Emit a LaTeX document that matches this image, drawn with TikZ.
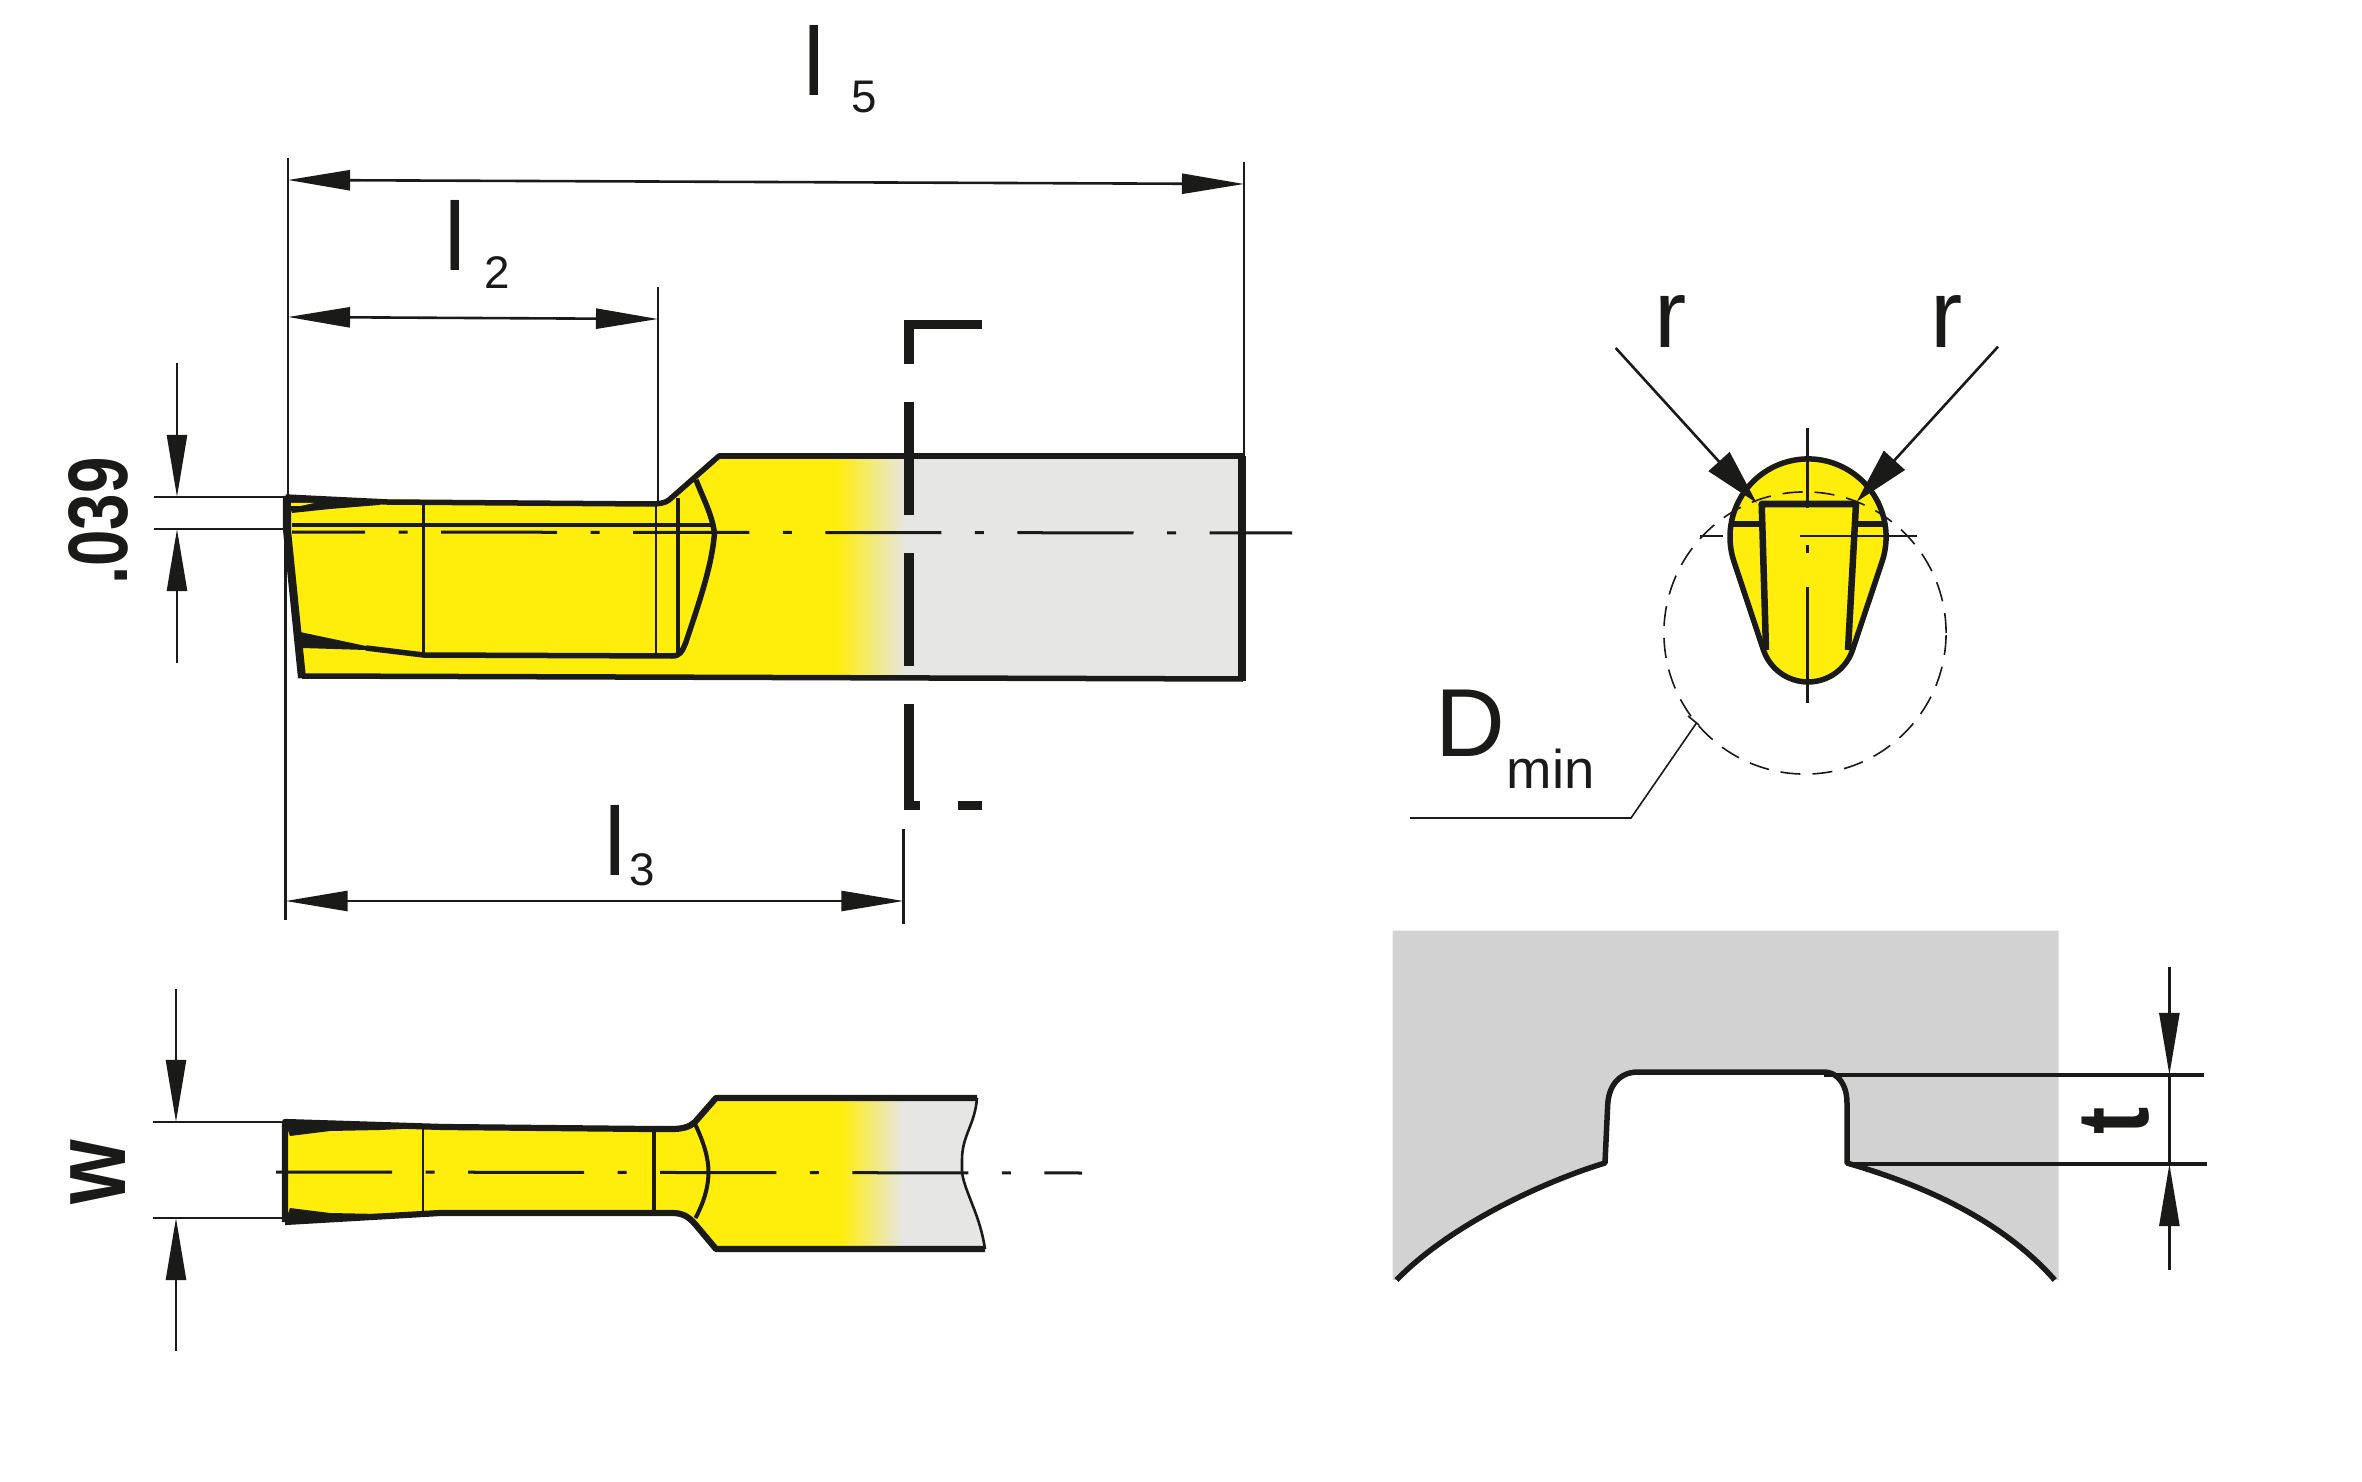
\documentclass[tikz,border=0pt]{standalone}
\usepackage{fontspec}
\setmainfont{Liberation Sans}
\usetikzlibrary{arrows.meta}
\definecolor{tipyellow}{HTML}{FFEE0C}
\definecolor{shankgray}{HTML}{E6E6E4}
\definecolor{workgray}{HTML}{D2D2D2}
\definecolor{inkblack}{HTML}{1A1A18}

\begin{document}
\begin{tikzpicture}[
			x=0.01cm, y=-0.01cm, color = inkblack,
			>={Triangle[length=0.62cm, width=0.2cm]},
			bodyline/.style={line width = 0.055cm, line join=round},
			heavyline/.style={line width = 0.08cm},
			midline/.style={line width = 0.04cm},
			thinline/.style={line width = 0.026cm},
			dimline/.style={line width = 0.026cm},
			cutline/.style={line width = 0.095cm},
			axisline/.style={line width = 0.03cm, dash pattern=on 1.16cm off 0.335cm on 0.09cm off 0.335cm},
			biglabel/.style={inner sep=0, anchor=base west, font=\fontsize{27.5}{28}\selectfont},
			sublabel/.style={inner sep=0, anchor=base west, font=\fontsize{13}{14}\selectfont},
			sidelabel/.style={inner sep=0, anchor=base, rotate=90, xscale=0.8, font=\bfseries\fontsize{28}{28}\selectfont}
		]
		\useasboundingbox (0,0) rectangle (2362,1482);

		\fill[tipyellow] (285.5,497) -- (648,504) -- (669,500) -- (719,456) -- (838,456) -- (838,678) -- (302,676) -- (285.5,530) -- cycle;
		\shade[left color=tipyellow, right color=shankgray] (837,456) rectangle (906,679);
		\fill[shankgray] (905,456) rectangle (1243,679);

		\draw[thinline] (288,158) -- (288,497);
		\draw[thinline] (285.5,497) -- (285.5,920);
		\draw[thinline] (1244,162) -- (1244,456);
		\draw[thinline] (658,287) -- (658,503);
		\draw[thinline] (903.5,829) -- (903.5,924);
		\draw[thinline] (154,497) -- (286,497);
		\draw[thinline] (154,529) -- (286,529);

		\draw[dimline,<->] (288,180) -- (1244,184);
		\draw[dimline,<->] (288,317) -- (658,319);
		\draw[dimline,<->] (285.5,901) -- (903.5,901);
		\draw[dimline,->] (177,363) -- (177,497);
		\draw[dimline,->] (177,663) -- (177,529);

		\draw[bodyline] (285.5,497) -- (387,502) -- (648,504) .. controls (660,504) and (665,503) .. (669,500) -- (719,456) -- (1243,456);
		\draw[bodyline] (1243,679) -- (302,676);
		\draw[heavyline] (1242,456) -- (1242,681);
		\draw[heavyline] (287,496) -- (287,530) -- (302,678);
		\draw[midline] (292,525) -- (714,525);
		\draw[thinline] (423.5,505) -- (423.5,655);
		\draw[thinline] (656,504) -- (656,655);
		\draw[midline] (678,498) -- (678,654);
		\draw[bodyline] (366,648) -- (423.5,655) -- (672,656) .. controls (680,656) and (682,652) .. (686,642) .. controls (700,600) and (712,565) .. (714.5,533) .. controls (712,515) and (704,500) .. (696,480);
		\fill (287,497) -- (387,502) -- (379,505) -- (330,509) -- (292,513) -- cycle;
		\fill[tipyellow] (291,503) -- (314,503) -- (300,506) -- (291,506) -- cycle;
		\fill (300,632) -- (366,646) -- (366,650) -- (302,648) -- cycle;
		\draw[axisline,dash phase=0.43cm] (292,532) -- (1292,533);

		\draw[cutline] (909,364.5) -- (909,324.5) -- (982,324.5);
		\draw[cutline] (909,402) -- (909,515.5);
		\draw[cutline] (909,553) -- (909,666);
		\draw[cutline] (909,704) -- (909,805.5) -- (920,805.5);
		\draw[cutline] (957.5,805.5) -- (982,805.5);

		\node[biglabel] (lfive) at (803,96) {l};
		\node[sublabel] (lfivesub) at (851,113) {5};
		\node[biglabel] (ltwo) at (444,271) {l};
		\node[sublabel] (ltwosub) at (484,289) {2};
		\node[biglabel] (lthree) at (604,875) {l};
		\node[sublabel] (lthreesub) at (629,885) {3};
		\node[sidelabel,xscale=0.97,font=\bfseries\fontsize{24}{24}\selectfont] (lip) at (127,521) {.039};

		\fill[tipyellow] (285,1122) -- (443,1127) -- (672,1129) -- (695,1122) -- (716,1098) -- (842,1098) -- (842,1249) -- (716,1249) -- (690,1220) -- (672,1213) -- (440,1213) -- (285,1222) -- cycle;
		\shade[left color=tipyellow, right color=shankgray] (841,1098) rectangle (903,1249);
		\fill[shankgray] (902,1098) -- (977,1098) .. controls (975,1125) and (962,1135) .. (962,1160) -- (962,1173) .. controls (966,1195) and (980,1215) .. (985,1249) -- (902,1249) -- cycle;

		\draw[bodyline,line width = 0.062cm] (285,1222) -- (285,1122) -- (443,1127) -- (650,1129) -- (672,1129) .. controls (682,1129) and (690,1127) .. (695,1122) -- (716,1098) -- (977,1098);
		\draw[bodyline,line width = 0.062cm] (985,1249) -- (716,1249) -- (695,1224) .. controls (688,1216) and (682,1213) .. (672,1213) -- (440,1213) -- (285,1222);
		\draw[thinline] (977,1098) .. controls (975,1125) and (962,1135) .. (962,1160) -- (962,1173) .. controls (966,1195) and (980,1215) .. (985,1249);
		\draw[thinline] (423,1129) -- (423,1211);
		\draw[midline] (653.5,1130) -- (653.5,1213);
		\draw[midline] (695.5,1125) .. controls (705,1145) and (708.5,1160) .. (708.5,1172) .. controls (708.5,1185) and (705,1200) .. (695.5,1218);
		\fill (285,1122) -- (443,1127) -- (380,1130) -- (330,1131) -- (290,1136) -- cycle;
		\fill (285,1222) -- (440,1213) -- (380,1214) -- (330,1213) -- (290,1208) -- cycle;
		\draw[axisline] (276,1172) -- (1082,1173);

		\draw[thinline] (153,1122) -- (285,1122);
		\draw[thinline] (153,1218) -- (285,1218);
		\draw[dimline,->] (176,989) -- (176,1122);
		\draw[dimline,->] (176,1351) -- (176,1218);
		\node[sidelabel,font=\bfseries\fontsize{29.5}{30}\selectfont] (width) at (125,1172) {w};

		\fill[tipyellow] (1734,561.6) arc[start angle=198.4, end angle=-18.4, radius=0.78cm] -- (1852.6,649.8) arc[start angle=-18.4, end angle=-161.6, radius=0.47cm] -- cycle;
		\draw[bodyline] (1734,561.6) arc[start angle=198.4, end angle=-18.4, radius=0.78cm] -- (1852.6,649.8) arc[start angle=-18.4, end angle=-161.6, radius=0.47cm] -- cycle;
		\draw[bodyline,line width = 0.065cm] (1766,650) -- (1761.7,504) -- (1856,504) -- (1848,650);
		\draw[bodyline] (1732,524) -- (1760,524);
		\draw[bodyline] (1857,524) -- (1883,524);
		\draw[thinline] (1807.7,428) -- (1807.7,508);
		\draw[thinline] (1807.7,545) -- (1807.7,553);
		\draw[thinline] (1807.7,587) -- (1807.7,703);
		\draw[line width = 0.018cm] (1700,535.7) -- (1723,535.7);
		\draw[line width = 0.018cm] (1800,535.7) -- (1917,535.7);
		\draw[line width = 0.016cm, dash pattern=on 0.2cm off 0.12cm] (1805,633) circle (1.41cm);
		\draw[line width = 0.016cm] (1410,818) -- (1631,818) -- (1696.7,722.7);
		\draw[line width = 0.016cm] (1688,716) -- (1699,725);
		\draw[dimline,-{Triangle[length=0.56cm, width=0.28cm]}] (1615.7,348) -- (1756.7,503);
		\draw[dimline,-{Triangle[length=0.56cm, width=0.28cm]}] (1998,346.7) -- (1856.7,501.7);
		\node[biglabel] (radiusleft) at (1653.5,348) {r};
		\node[biglabel] (radiusright) at (1930,348) {r};
		\node[biglabel] (dmin) at (1435,756) {D};
		\node[sublabel,font=\fontsize{15.5}{16}\selectfont] (dminsub) at (1506,788) {min};

		\fill[workgray] (1392.6,1280) -- (1392.6,930.7) -- (2058.5,930.7) -- (2058.5,1280) -- (2054.7,1280) .. controls (1995,1212) and (1905,1180) .. (1847,1163) -- (1847,1103) .. controls (1847,1085) and (1838,1072) .. (1824,1072) -- (1638,1072) .. controls (1620,1072) and (1608,1085) .. (1607.6,1107) -- (1605,1163) .. controls (1555,1178) and (1455,1220) .. (1396.5,1280) -- cycle;
		\draw[bodyline] (1396.5,1280) .. controls (1455,1220) and (1555,1178) .. (1605,1163) -- (1607.6,1107) .. controls (1608,1085) and (1620,1072) .. (1638,1072) -- (1824,1072) .. controls (1838,1072) and (1847,1085) .. (1847,1103) -- (1847,1163) .. controls (1905,1180) and (1995,1212) .. (2054.7,1280);
		\draw[midline] (1824,1075) -- (2204,1075);
		\draw[midline] (1850,1164) -- (2207,1164);
		\draw[dimline,->] (2169.4,967) -- (2169.4,1075);
		\draw[dimline,->] (2169.4,1270) -- (2169.4,1164);
		\draw[dimline] (2169.4,1075) -- (2169.4,1164);
		\node[sidelabel,font=\bfseries\fontsize{29}{29}\selectfont] (depth) at (2148,1120.7) {t};
	\end{tikzpicture}
\end{document}
